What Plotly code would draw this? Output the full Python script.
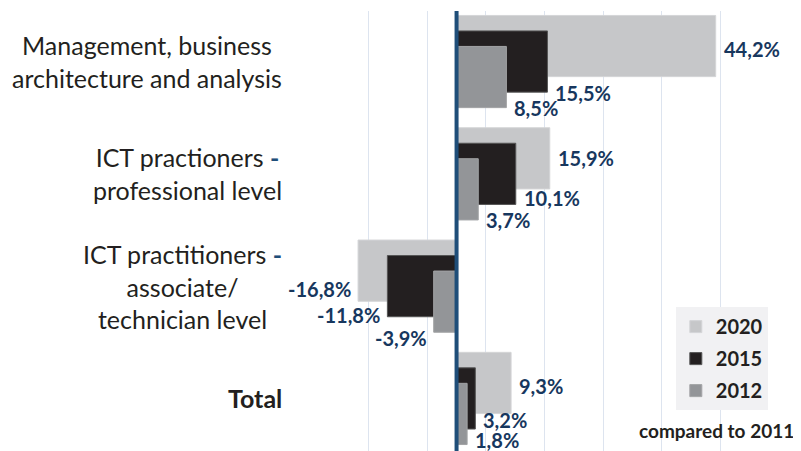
import plotly.graph_objects as go

categories = [
    "Management, business<br>architecture and analysis",
    "ICT practioners <b><span style='color:#1f4e79'>-</span></b><br>professional level",
    "ICT practitioners <b><span style='color:#1f4e79'>-</span></b><br>associate/<br>technician level",
    "<b>Total</b>",
]
series_names = ["2020", "2015", "2012"]
values_2020 = [44.2, 15.9, -16.8, 9.3]
values_2015 = [15.5, 10.1, -11.8, 3.2]
values_2012 = [8.5, 3.7, -3.9, 1.8]
label_2020 = ["44,2%", "15,9%", "-16,8%", "9,3%"]
label_2015 = ["15,5%", "10,1%", "-11,8%", "3,2%"]
label_2012 = ["8,5%", "3,7%", "-3,9%", "1,8%"]

ypos = list(range(len(categories)))
colors = ["#c6c7c9", "#231f20", "#939598"]
edge = ["#d4d5d7", "#555555", "#a3a4a6"]
W = 0.545
shift = 0.138
offsets = [-W / 2 - shift, -W / 2, -W / 2 + shift]
all_vals = [values_2020, values_2015, values_2012]
all_labels = [label_2020, label_2015, label_2012]

# styling: label anchor relative to category (data units) + small pixel nudges (down = positive)
label_dy = [-shift, W / 2, W / 2 + shift]
label_nudge = [[3, 0, 18, 3], [1, -6, -2, -9], [0, 0, 6, -5]]

fig = go.Figure()
for i, name in enumerate(series_names):
    fig.add_trace(go.Bar(
        y=ypos, x=all_vals[i], orientation="h", name=name,
        width=W, offset=offsets[i],
        marker=dict(color=colors[i], line=dict(color=edge[i], width=1)),
        legendgroup=name, hoverinfo="skip",
    ))

annotations = []
for i in range(3):
    for j, v in enumerate(all_vals[i]):
        annotations.append(dict(
            x=v, y=j + label_dy[i], xref="x", yref="y",
            text="<b>" + all_labels[i][j] + "</b>",
            showarrow=False,
            xanchor="left" if v >= 0 else "right",
            yanchor="middle",
            xshift=6 if v >= 0 else -5,
            yshift=-label_nudge[i][j],
            font=dict(family="Lato", size=20, color="#17375e"),
        ))

for j, c in enumerate(categories):
    annotations.append(dict(
        x=0, y=j, xref="paper", yref="y", text=c, showarrow=False,
        xanchor="right", yanchor="middle", align="center", xshift=-26,
        font=dict(family="Lato", size=25, color="#231f20"),
    ))

annotations.append(dict(
    x=1.0, y=0, xref="paper", yref="paper", text="<b>compared to 2011</b>",
    showarrow=False, xanchor="right", yanchor="middle", yshift=21, xshift=17,
    font=dict(family="Lato", size=19, color="#231f20"),
))

fig.update_layout(
    width=793, height=443,
    margin=dict(l=302, r=22, t=3, b=0),
    paper_bgcolor="white", plot_bgcolor="white",
    barmode="overlay",
    showlegend=True,
    legend=dict(
        x=0.78, y=0.327, xanchor="left", yanchor="top",
        bgcolor="#f1f1f3", borderwidth=0,
        font=dict(family="Lato", size=20, color="#231f20", weight="bold"),
        tracegroupgap=3, traceorder="grouped",
    ),
    xaxis=dict(
        range=[-25, 55], tick0=-25, dtick=10, showticklabels=False,
        showgrid=True, gridcolor="#dde4ef", gridwidth=1, zeroline=False,
        ticks="",
    ),
    yaxis=dict(
        range=[3.468, -0.45], showticklabels=False, showgrid=False,
        zeroline=False, ticks="",
    ),
    annotations=annotations,
    shapes=[dict(
        type="line", xref="x", yref="paper", x0=0, x1=0, y0=0, y1=1,
        line=dict(color="#1f4e79", width=4), layer="above",
    )],
)

fig.write_html("out.html")
